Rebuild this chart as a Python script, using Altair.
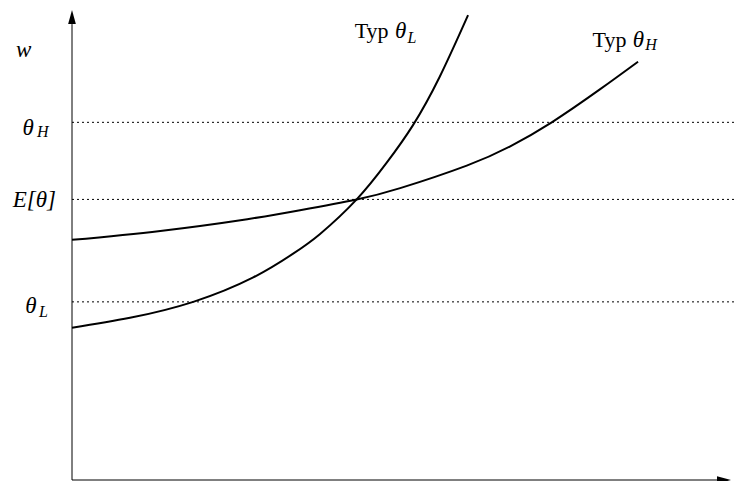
import altair as alt
import pandas as pd

# Curve points (education on x, wage on y; 0..100 units)
typ_L_x = [0, 8.8, 18.4, 27.5, 33.5, 37.6, 43.2, 47.7, 51.7, 55.8, 60.1]
typ_L_y = [32.4, 34.5, 37.9, 43.1, 48.1, 52.3, 59.7, 67.4, 75.4, 85.8, 98.9]
typ_H_x = [0, 13.4, 26.6, 34.6, 43.2, 49.8, 59.9, 66.5, 72.8, 80.1, 85.9]
typ_H_y = [51.1, 53.0, 55.5, 57.4, 59.7, 62.1, 66.9, 71.0, 76.1, 83.1, 89.0]

# Horizontal reference levels
level_names = ["theta_H", "E_theta", "theta_L"]
level_values = [76.1, 59.7, 37.9]
level_end = 100.8

# Axes extents
axis_len = [97.0, 97.9]
arrow_tip = 100

# Text labels: main glyphs (italic math), subscripts, plain text
math_text = ["w", "θ", "E[θ]", "θ", "θ", "θ"]
math_x = [-8.5, -7.5, -9.0, -7.1, 49.0, 85.1]
math_y = [90.1, 73.5, 58.1, 35.6, 94.0, 92.2]
sub_text = ["H", "L", "L", "H"]
sub_x = [-5.3, -5.0, 50.9, 87.0]
sub_y = [72.9, 34.7, 93.0, 91.5]
plain_text = ["Typ", "Typ"]
plain_x = [42.9, 79.0]
plain_y = [94.0, 92.2]

xs = alt.Scale(domain=[0, 100], range=[64, 723])
ys = alt.Scale(domain=[0, 100], range=[472, 2])

def X(f):
    return alt.X(f, type="quantitative", scale=xs, axis=None)

def Y(f):
    return alt.Y(f, type="quantitative", scale=ys, axis=None)

curves = pd.DataFrame(
    {"x": typ_L_x + typ_H_x,
     "y": typ_L_y + typ_H_y,
     "typ": ["L"] * len(typ_L_x) + ["H"] * len(typ_H_x),
     "order": list(range(len(typ_L_x))) + list(range(len(typ_H_x)))}
)
levels = pd.DataFrame({"name": level_names, "y": level_values, "x0": 0, "x1": level_end})
yaxis = pd.DataFrame({"x": [0], "y0": [0], "y1": [axis_len[0]]})
xaxis = pd.DataFrame({"y": [0], "x0": [0], "x1": [axis_len[1]]})
tip_up = pd.DataFrame({"x": [0], "y": [arrow_tip]})
tip_right = pd.DataFrame({"x": [arrow_tip], "y": [0]})
math_df = pd.DataFrame({"t": math_text, "x": math_x, "y": math_y})
sub_df = pd.DataFrame({"t": sub_text, "x": sub_x, "y": sub_y})
plain_df = pd.DataFrame({"t": plain_text, "x": plain_x, "y": plain_y})

line_layer = alt.Chart(curves).mark_line(
    color="black", strokeWidth=2, interpolate="natural"
).encode(x=X("x"), y=Y("y"), detail="typ:N", order="order:Q")

level_layer = alt.Chart(levels).mark_rule(
    color="black", strokeWidth=1, strokeDash=[2, 3]
).encode(x=X("x0"), x2="x1:Q", y=Y("y"))

yaxis_layer = alt.Chart(yaxis).mark_rule(color="black", strokeWidth=1).encode(
    x=X("x"), y=Y("y0"), y2="y1:Q")
xaxis_layer = alt.Chart(xaxis).mark_rule(color="black", strokeWidth=1).encode(
    y=Y("y"), x=X("x0"), x2="x1:Q")

up_layer = alt.Chart(tip_up).mark_point(
    shape="M0,0L0.55,2L-0.55,2Z", size=196, filled=True, color="black", opacity=1
).encode(x=X("x"), y=Y("y"))
right_layer = alt.Chart(tip_right).mark_point(
    shape="M0,0L-2,-0.55L-2,0.55Z", size=196, filled=True, color="black", opacity=1
).encode(x=X("x"), y=Y("y"))

math_layer = alt.Chart(math_df).mark_text(
    font="Liberation Serif", fontStyle="italic", fontSize=23, align="left",
    baseline="alphabetic", color="black"
).encode(x=X("x"), y=Y("y"), text="t:N")
sub_layer = alt.Chart(sub_df).mark_text(
    font="Liberation Serif", fontStyle="italic", fontSize=16, align="left",
    baseline="alphabetic", color="black"
).encode(x=X("x"), y=Y("y"), text="t:N")
plain_layer = alt.Chart(plain_df).mark_text(
    font="Liberation Serif", fontSize=22, align="left",
    baseline="alphabetic", color="black"
).encode(x=X("x"), y=Y("y"), text="t:N")

chart = alt.layer(
    level_layer, yaxis_layer, xaxis_layer, up_layer, right_layer,
    line_layer, math_layer, sub_layer, plain_layer
).properties(
    width=728, height=473, padding=0, autosize=alt.AutoSizeParams(type="none")
).configure_view(stroke=None)

chart.save("out.html", embed_options={"renderer": "svg", "actions": False})
